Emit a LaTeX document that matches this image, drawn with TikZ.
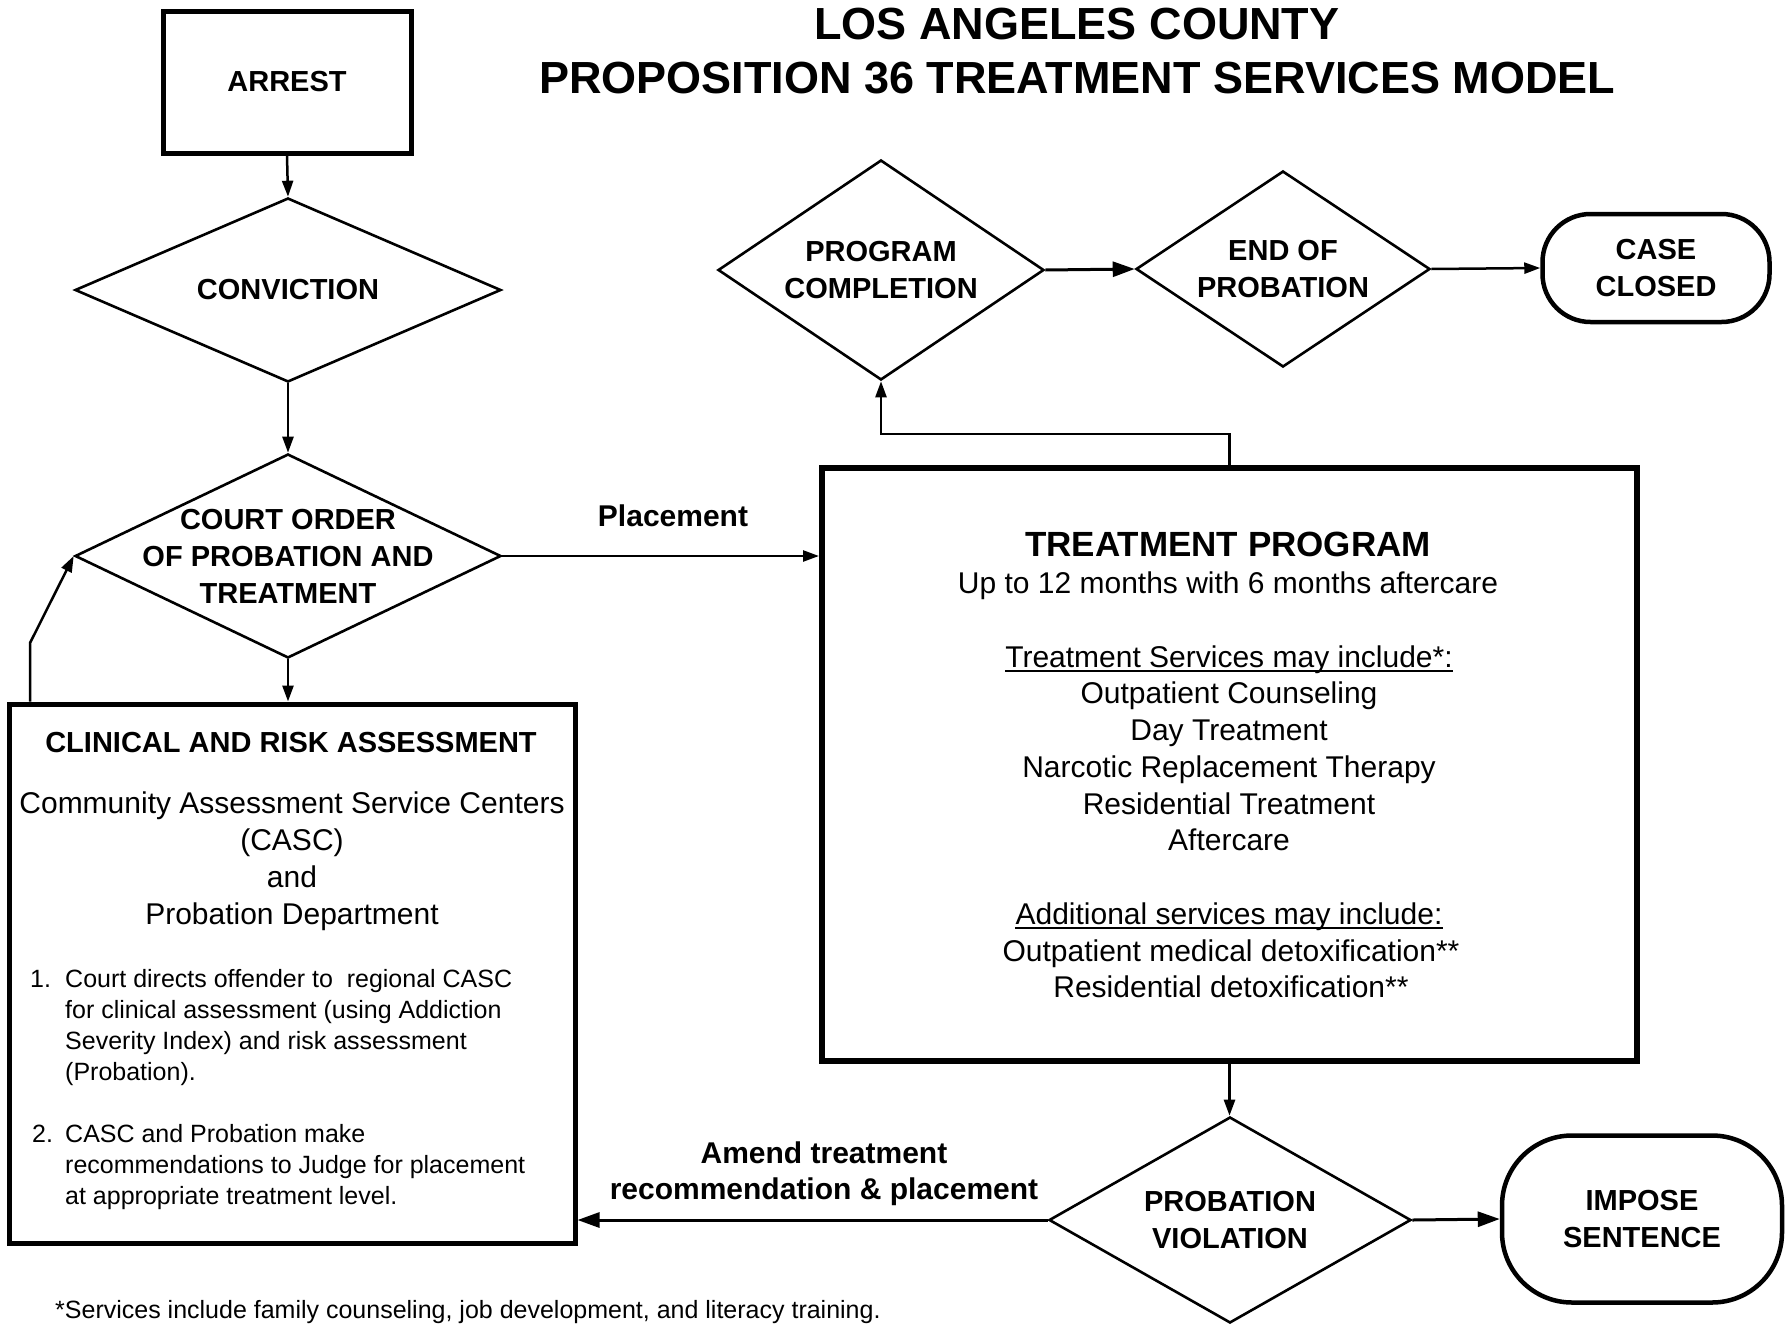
\documentclass[tikz,border=0pt]{standalone}
\usepackage{fontspec}
\setmainfont{Liberation Sans}
\usetikzlibrary{shapes.geometric,arrows.meta}
\begin{document}
\begin{tikzpicture}[x=1pt,y=-1pt,
  box/.style={draw, line width=5pt, inner sep=0pt},
  dia/.style={draw, diamond, line width=2.6pt, inner sep=0pt},
  term/.style={draw, rounded corners=#1, line width=4.5pt, inner sep=0pt, align=center,
    font=\bfseries\fontsize{29pt}{37pt}\selectfont},
  btxt/.style={font=\bfseries\fontsize{29pt}{37pt}\selectfont, align=center, inner sep=0pt},
  rtxt/.style={font=\fontsize{30pt}{36.8pt}\selectfont, inner sep=0pt, anchor=base},
  stxt/.style={font=\fontsize{25pt}{31pt}\selectfont, inner sep=0pt, anchor=base west},
  uln/.style={line width=2pt},
  arr/.style={line width=2.5pt, -{Triangle[length=16pt,width=11pt]}},
  arrb/.style={line width=3pt, -{Triangle[length=22pt,width=15pt]}}
]
\useasboundingbox (0,0) rectangle (1785,1325);
\fill[white] (0,0) rectangle (1785,1325);

% title
\node[font=\bfseries\fontsize{45pt}{54pt}\selectfont, inner sep=0pt, anchor=base] (t1) at (1077,39) {LOS ANGELES COUNTY};
\node[font=\bfseries\fontsize{45pt}{54pt}\selectfont, inner sep=0pt, anchor=base] (t2) at (1077,93) {PROPOSITION 36 TREATMENT SERVICES MODEL};

% left column
\node[box, btxt, minimum width=248, minimum height=142] (arrest) at (287,82) {ARREST};
\node[dia, minimum width=426, minimum height=184] (conv) at (288,290) {};
\node[btxt] (convT) at (conv.center) {CONVICTION};
\node[dia, minimum width=426, minimum height=204] (court) at (288,556) {};
\node[btxt] (courtT) at (court.center) {COURT ORDER\\OF PROBATION AND\\TREATMENT};
\node[box, minimum width=566, minimum height=539] (clin) at (292,973.5) {};

\node[btxt, anchor=base] (clinH) at (291,752.5) {CLINICAL AND RISK ASSESSMENT};
\node[rtxt] (clin1) at (292,813) {Community Assessment Service Centers};
\node[rtxt] (clin2) at (292,850) {(CASC)};
\node[rtxt] (clin3) at (292,887) {and};
\node[rtxt] (clin4) at (292,924) {Probation Department};

\node[stxt] (n1) at (30,987) {1.};
\node[stxt] (l1a) at (65,987) {Court directs offender to\ \ regional CASC};
\node[stxt] (l1b) at (65,1018) {for clinical assessment (using Addiction};
\node[stxt] (l1c) at (65,1049) {Severity Index) and risk assessment};
\node[stxt] (l1d) at (65,1080) {(Probation).};
\node[stxt] (n2) at (32,1142) {2.};
\node[stxt] (l2a) at (65,1142) {CASC and Probation make};
\node[stxt] (l2b) at (65,1173) {recommendations to Judge for placement};
\node[stxt] (l2c) at (65,1204) {at appropriate treatment level.};

% treatment box
\node[box, line width=6pt, minimum width=815, minimum height=593] (treat) at (1229.5,764.5) {};
\node[font=\bfseries\fontsize{35pt}{40pt}\selectfont, inner sep=0pt, anchor=base] (tpH) at (1228,556) {TREATMENT PROGRAM};
\node[rtxt] (tp0) at (1228,593) {Up to 12 months with 6 months aftercare};
\node[rtxt] (tp1) at (1229,667) {Treatment Services may include*:};
\node[rtxt] (tp2) at (1229,703) {Outpatient Counseling};
\node[rtxt] (tp3) at (1229,740) {Day Treatment};
\node[rtxt] (tp4) at (1229,777) {Narcotic Replacement Therapy};
\node[rtxt] (tp5) at (1229,814) {Residential Treatment};
\node[rtxt] (tp6) at (1229,850) {Aftercare};
\node[rtxt] (tp7) at (1229,924) {Additional services may include:};
\node[rtxt] (tp8) at (1231,961) {Outpatient medical detoxification**};
\node[rtxt] (tp9) at (1231,997) {Residential detoxification**};
\draw[uln] ([yshift=-4pt]tp1.base west) -- ([yshift=-4pt]tp1.base east);
\draw[uln] ([yshift=-4pt]tp7.base west) -- ([yshift=-4pt]tp7.base east);

% top right
\node[dia, minimum width=326, minimum height=220] (prog) at (881,270) {};
\node[btxt] (progT) at (prog.center) {PROGRAM\\COMPLETION};
\node[dia, minimum width=294, minimum height=196] (endp) at (1283,269) {};
\node[btxt] (endpT) at (endp.center) {END OF\\PROBATION};
\node[term=48pt, minimum width=227, minimum height=108] (case) at (1656,268) {CASE\\CLOSED};

% bottom right
\node[dia, minimum width=362, minimum height=206] (viol) at (1230,1220) {};
\node[btxt] (violT) at (viol.center) {PROBATION\\VIOLATION};
\node[term=70pt, minimum width=280, minimum height=167] (imp) at (1642,1219) {IMPOSE\\SENTENCE};

% labels
\node[font=\bfseries\fontsize{30pt}{37pt}\selectfont, inner sep=0pt, anchor=base] (plc) at (673,526) {Placement};
\node[font=\bfseries\fontsize{30pt}{37pt}\selectfont, inner sep=0pt, anchor=base] (am1) at (824,1163) {Amend treatment};
\node[font=\bfseries\fontsize{30pt}{37pt}\selectfont, inner sep=0pt, anchor=base] (am2) at (824,1199) {recommendation \& placement};

% footnote
\node[stxt] (foot) at (55,1318) {*Services include family counseling, job development, and literacy training.};

% connectors
\draw[arr] (arrest.south) -- (conv.north);
\draw[arr] (conv.south) -- (court.north);
\draw[arr] (court.south) -- (court.south |- clin.north);
\coordinate (fb) at (30,643);
\draw[arr] (fb |- clin.north) -- (fb) -- (court.west);
\draw[arr] (court.east) -- (court.east -| treat.west);
\draw[arr] (treat.north) -- ++(0,-31) -| (prog.south);
\draw[arrb] (prog.east) -- (endp.west);
\draw[arr] (endp.east) -- (case.west);
\draw[arr] (treat.south) -- (treat.south |- viol.north);
\draw[arrb] (viol.east) -- (imp.west);
\draw[arrb] (viol.west) -- (viol.west -| clin.east);
\end{tikzpicture}
\end{document}
